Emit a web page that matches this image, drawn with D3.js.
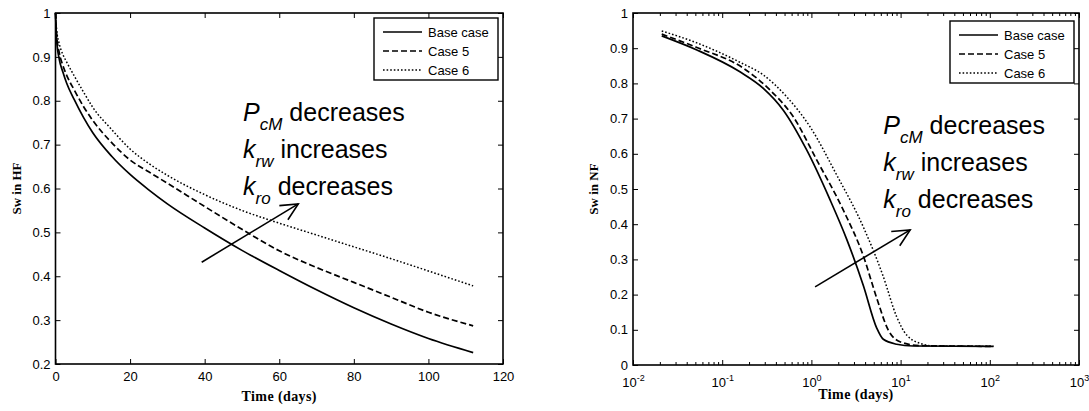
<!DOCTYPE html>
<html>
<head>
<meta charset="utf-8">
<script src="https://cdn.jsdelivr.net/npm/d3@7"></script>
<style>
body { margin: 0; background: #fff; }
text { font-family: "Liberation Sans", Arial, sans-serif; fill: #000; }
</style>
</head>
<body>
<div id="chart"></div>
<script>
// ---- data ----
var seriesNames = ["Base case", "Case 5", "Case 6"];

// left panel: Sw in HF vs time (days)
var hfTime  = [0, 0.3, 1, 2, 3, 5, 7.5, 10, 15, 20, 25, 30, 40, 50, 60, 70, 80, 90, 100, 112];
var hfBase  = [1, 0.94, 0.895, 0.865, 0.84, 0.803, 0.762, 0.727, 0.674, 0.632, 0.597, 0.565, 0.51, 0.459, 0.413, 0.369, 0.328, 0.291, 0.258, 0.226];
var hfCase5 = [1, 0.95, 0.91, 0.88, 0.858, 0.825, 0.787, 0.755, 0.705, 0.665, 0.638, 0.612, 0.559, 0.507, 0.458, 0.42, 0.386, 0.352, 0.318, 0.287];
var hfCase6 = [1, 0.962, 0.93, 0.905, 0.888, 0.857, 0.82, 0.785, 0.735, 0.69, 0.657, 0.63, 0.586, 0.55, 0.521, 0.494, 0.467, 0.44, 0.412, 0.378];

// right panel: Sw in NF vs time (days), log axis
var nfBaseTime  = [0.021, 0.052, 0.158, 0.289, 0.484, 0.885, 1.62, 2.49, 3.82, 5.40, 6.40, 9.04, 13.8, 110];
var nfBase      = [0.935, 0.895, 0.833, 0.786, 0.724, 0.611, 0.469, 0.357, 0.226, 0.105, 0.073, 0.059, 0.054, 0.053];
var nfCase5Time = [0.021, 0.052, 0.173, 0.344, 0.627, 1.15, 2.28, 3.82, 5.40, 7.28, 9.84, 16.6, 110];
var nfCase5     = [0.94, 0.902, 0.843, 0.781, 0.705, 0.582, 0.44, 0.31, 0.19, 0.099, 0.066, 0.055, 0.053];
var nfCase6Time = [0.021, 0.052, 0.158, 0.289, 0.528, 0.964, 1.92, 3.82, 6.40, 9.04, 11.7, 17.8, 24, 110];
var nfCase6     = [0.949, 0.915, 0.86, 0.824, 0.762, 0.677, 0.54, 0.392, 0.251, 0.137, 0.085, 0.059, 0.054, 0.053];

var hfXTicks = [0, 20, 40, 60, 80, 100, 120];
var hfYTicks = [0.2, 0.3, 0.4, 0.5, 0.6, 0.7, 0.8, 0.9, 1];
var nfXExp   = [-2, -1, 0, 1, 2, 3];
var nfYTicks = [0, 0.1, 0.2, 0.3, 0.4, 0.5, 0.6, 0.7, 0.8, 0.9, 1];

var notes = [["P", "cM", " decreases"], ["k", "rw", " increases"], ["k", "ro", " decreases"]];

var dashes = [null, "6,3", "1.6,2"];

var svg = d3.select("#chart").append("svg")
    .attr("width", 1089)
    .attr("height", 411)
    .style("background", "#fff");

function zip(t, v) {
    return t.map(function (d, i) { return [d, v[i]]; });
}

function drawPanel(o) {
    var x = o.x, y = o.y;
    var g = svg.append("g");
    var x0 = x.range()[0], x1 = x.range()[1];
    var y0 = y.range()[0], y1 = y.range()[1];

    // curves
    var line = d3.line()
        .x(function (d) { return x(d[0]); })
        .y(function (d) { return y(d[1]); })
        .curve(d3.curveMonotoneX);
    o.series.forEach(function (s, i) {
        g.append("path")
            .attr("d", line(s))
            .attr("fill", "none")
            .attr("stroke", "#000")
            .attr("stroke-width", i == 2 ? 1.5 : 1.7)
            .attr("stroke-dasharray", dashes[i]);
    });

    // axes, ticks pointing inward (matlab style)
    var bottom = g.append("g")
        .attr("transform", "translate(0," + y0 + ")")
        .call(d3.axisBottom(x).tickValues(o.xTicks).tickSizeInner(-5).tickSizeOuter(0)
            .tickPadding(o.log ? 12 : 8).tickFormat(o.log ? function () { return ""; } : d3.format("")));
    g.append("g")
        .attr("transform", "translate(0," + y1 + ")")
        .call(d3.axisTop(x).tickValues(o.xTicks).tickSizeInner(-5).tickSizeOuter(0).tickFormat(""));
    if (o.minor) {
        g.append("g")
            .attr("transform", "translate(0," + y0 + ")")
            .call(d3.axisBottom(x).tickValues(o.minor).tickSizeInner(-3).tickSizeOuter(0).tickFormat(""));
        g.append("g")
            .attr("transform", "translate(0," + y1 + ")")
            .call(d3.axisTop(x).tickValues(o.minor).tickSizeInner(-3).tickSizeOuter(0).tickFormat(""));
    }
    g.append("g")
        .attr("transform", "translate(" + x0 + ",0)")
        .call(d3.axisLeft(y).tickValues(o.yTicks).tickSizeInner(-5).tickSizeOuter(0).tickPadding(5)
            .tickFormat(d3.format("")));
    g.append("g")
        .attr("transform", "translate(" + x1 + ",0)")
        .call(d3.axisRight(y).tickValues(o.yTicks).tickSizeInner(-5).tickSizeOuter(0).tickFormat(""));

    g.selectAll(".domain").remove();
    g.selectAll(".tick line").attr("stroke", "#000").attr("stroke-width", 1);
    g.selectAll(".tick text").style("font-size", "13px").style("font-family", "Liberation Sans, Arial, sans-serif");

    if (o.log) {
        bottom.selectAll(".tick text").each(function (d) {
            var t = d3.select(this).attr("dy", null).attr("y", 22);
            t.append("tspan").text("10");
            t.append("tspan").attr("dy", -6).style("font-size", "9px")
                .text(Math.round(Math.log10(d)));
        });
    }

    // frame
    g.append("rect")
        .attr("x", x0).attr("y", y1)
        .attr("width", x1 - x0).attr("height", y0 - y1)
        .attr("fill", "none").attr("stroke", "#000").attr("stroke-width", 1.6);

    // axis titles
    g.append("text")
        .attr("x", (x0 + x1) / 2).attr("y", o.xTitleY)
        .attr("text-anchor", "middle")
        .style("font-family", "Liberation Serif, Times New Roman, serif")
        .style("font-weight", "bold").style("font-size", "14px")
        .style("letter-spacing", "0.4px")
        .text("Time (days)");
    g.append("text")
        .attr("transform", "translate(" + (x0 - 35) + "," + (y0 + y1) / 2 + ")rotate(-90)")
        .attr("text-anchor", "middle")
        .style("font-family", "Liberation Serif, Times New Roman, serif")
        .style("font-weight", "bold").style("font-size", "13px")
        .text(o.yTitle);

    // legend
    var lg = g.append("g").attr("transform", "translate(" + (x1 - o.legend[0]) + "," + o.legend[1] + ")");
    lg.append("rect")
        .attr("width", 124).attr("height", 62)
        .attr("fill", "#fff").attr("stroke", "#000").attr("stroke-width", 1.4);
    seriesNames.forEach(function (n, i) {
        var ry = 14 + i * 19;
        lg.append("line")
            .attr("x1", 9).attr("x2", 48).attr("y1", ry).attr("y2", ry)
            .attr("stroke", "#000")
            .attr("stroke-width", i == 2 ? 1.3 : 1.6)
            .attr("stroke-dasharray", dashes[i]);
        lg.append("text")
            .attr("x", 54).attr("y", ry + 4.5)
            .style("font-size", "13px")
            .text(n);
    });

    // annotation text, anchored in data space
    var nx = x(o.note[0]), ny = y(o.note[1]);
    notes.forEach(function (n, i) {
        var t = g.append("text")
            .attr("x", nx).attr("y", ny + i * 37)
            .style("font-size", "25px");
        t.append("tspan").style("font-style", "italic").text(n[0]);
        t.append("tspan").style("font-style", "italic").style("font-size", "17px")
            .attr("dy", 9).text(n[1]);
        t.append("tspan").attr("dy", -9).text(n[2]);
    });

    // arrow
    var ax1 = x(o.arrow[0]), ay1 = y(o.arrow[1]), ax2 = x(o.arrow[2]), ay2 = y(o.arrow[3]);
    var ang = Math.atan2(ay1 - ay2, ax1 - ax2);
    var hl = 19, spread = 0.45;
    g.append("line")
        .attr("x1", ax1).attr("y1", ay1).attr("x2", ax2).attr("y2", ay2)
        .attr("stroke", "#000").attr("stroke-width", 1.6);
    g.append("path")
        .attr("d", "M" + (ax2 + hl * Math.cos(ang + spread)) + "," + (ay2 + hl * Math.sin(ang + spread)) +
            "L" + ax2 + "," + ay2 +
            "L" + (ax2 + hl * Math.cos(ang - spread)) + "," + (ay2 + hl * Math.sin(ang - spread)))
        .attr("fill", "none").attr("stroke", "#000").attr("stroke-width", 1.6);
}

// left panel
var hfX = d3.scaleLinear().domain([0, 120]).range([55.5, 503]);
var hfY = d3.scaleLinear().domain([0.2, 1]).range([364, 13]);
drawPanel({
    x: hfX, y: hfY,
    series: [zip(hfTime, hfBase), zip(hfTime, hfCase5), zip(hfTime, hfCase6)],
    xTicks: hfXTicks, yTicks: hfYTicks,
    yTitle: "Sw in HF", xTitleY: 401,
    legend: [129, 18],
    note: [50.3, 0.754],
    arrow: [39.2, 0.432, 65.1, 0.565]
});

// right panel
var nfX = d3.scaleLog().domain([0.01, 1000]).range([633, 1079]);
var nfY = d3.scaleLinear().domain([0, 1]).range([365, 13]);
var nfMajor = nfXExp.map(function (e) { return Math.pow(10, e); });
var nfMinor = [];
nfXExp.slice(0, -1).forEach(function (e) {
    for (var k = 2; k < 10; k++) nfMinor.push(k * Math.pow(10, e));
});
drawPanel({
    x: nfX, y: nfY, log: true,
    series: [zip(nfBaseTime, nfBase), zip(nfCase5Time, nfCase5), zip(nfCase6Time, nfCase6)],
    xTicks: nfMajor, minor: nfMinor, yTicks: nfYTicks,
    yTitle: "Sw in NF", xTitleY: 399,
    legend: [129, 21],
    note: [6.4, 0.656],
    arrow: [1.10, 0.222, 12.8, 0.384]
});
</script>
</body>
</html>
